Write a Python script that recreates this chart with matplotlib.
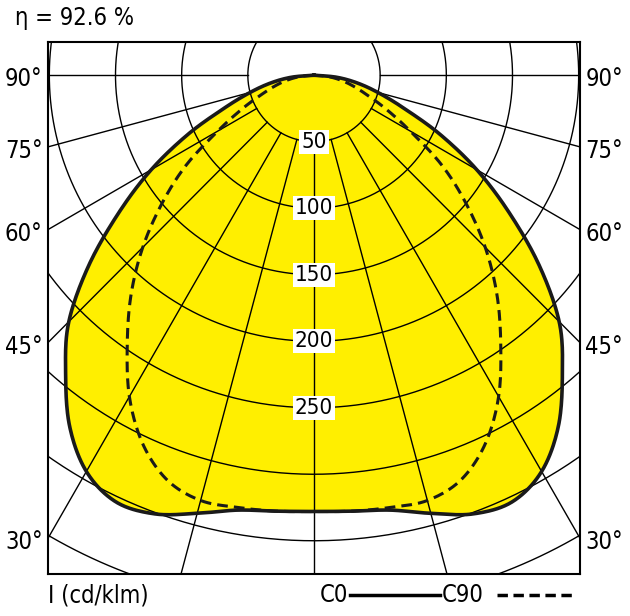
import numpy as np
import matplotlib
matplotlib.use("Agg")
import matplotlib.pyplot as plt

plt.rcParams['font.family'] = ['DejaVu Sans']
plt.rcParams['font.stretch'] = 'condensed'

gamma = [0, 5, 10, 15, 20, 25, 30, 35, 40, 45, 50, 55, 60, 65, 70, 75, 80, 85, 90]
c0 = [328, 329, 332, 341, 351, 354, 344, 322, 292, 262, 222, 180, 142, 105, 72, 50, 33, 17, 0]
c90 = [328, 329, 330, 331, 324, 306, 279, 246, 215, 183, 150, 118, 84, 60, 42, 30, 20, 10, 0]
ring_values = [50, 100, 150, 200, 250, 300, 350, 400, 450]
ring_labels = ["50", "100", "150", "200", "250"]
angle_labels = [90, 75, 60, 45, 30]
efficiency = "η = 92.6 %"

fig = plt.figure(figsize=(6.3, 6.16), dpi=100)
ax = fig.add_axes([48/630, (616-574)/616, 532/630, 532/616])
ax.set_xlim(-201, 201)
ax.set_ylim(-375, 25)
ax.set_xticks([]); ax.set_yticks([])
for s in ax.spines.values():
    s.set_linewidth(1.5)

def xy(g, r):
    g = np.radians(np.asarray(g, float))
    r = np.asarray(r, float)
    return r*np.sin(g), -r*np.cos(g)

def catmull(px, py, n=20):
    px = np.concatenate([[px[0]], px, [px[-1]]])
    py = np.concatenate([[py[0]], py, [py[-1]]])
    ox, oy = [], []
    for i in range(1, len(px)-2):
        for t in np.linspace(0, 1, n, endpoint=False):
            t2, t3 = t*t, t*t*t
            for P, O in ((px, ox), (py, oy)):
                p0, p1, p2, p3 = P[i-1], P[i], P[i+1], P[i+2]
                O.append(0.5*((2*p1) + (-p0+p2)*t + (2*p0-5*p1+4*p2-p3)*t2 + (-p0+3*p1-3*p2+p3)*t3))
    ox.append(px[-2]); oy.append(py[-2])
    return np.array(ox), np.array(oy)

def full(vals):
    g = np.array(gamma, float)
    gg = np.concatenate([-g[::-1], g[1:]])
    rr = np.concatenate([np.array(vals, float)[::-1], np.array(vals, float)[1:]])
    px, py = xy(gg, rr)
    return catmull(px, py)

x0, y0 = full(c0)
ax.fill(x0, y0, color='#ffef00', zorder=1, lw=0)

t = np.linspace(-np.pi, np.pi, 720)
for r in ring_values:
    ax.plot(r*np.sin(t), -r*np.cos(t), color='black', lw=1.0, zorder=2)
for a in range(-90, 91, 15):
    xa, ya = xy([a, a], [50, 800])
    ax.plot(xa, ya, color='black', lw=1.0, zorder=2)

ax.plot(x0, y0, color='#1a1a1a', lw=2.6, zorder=3)
x9, y9 = full(c90)
ax.plot(x9, y9, color='#1a1a1a', lw=2.2, ls=(0, (3.5, 2)), zorder=3)

for i, lab in enumerate(ring_labels):
    r = ring_values[i]
    ax.text(0, -r, lab, ha='center', va='center', fontsize=16, zorder=4,
            bbox=dict(facecolor='white', edgecolor='none', pad=1.5))

for a in angle_labels:
    g = np.radians(a)
    yy = -201/np.tan(g) if a != 90 else 0
    for xx, ha in [(-205, 'right'), (205, 'left')]:
        ax.text(xx, yy - 3, f"{a}°", ha=ha, va='center', fontsize=17, clip_on=False)

fig.text(15/630, 1-18/616, efficiency, ha='left', va='center', fontsize=17)
fig.text(48/630, 1-595/616, "I (cd/klm)", ha='left', va='center', fontsize=17)
fig.text(320/630, 1-595/616, "C0", ha='left', va='center', fontsize=17)
fig.add_artist(plt.Line2D([350/630, 440/630], [1-595/616]*2, color='black', lw=2.5))
fig.text(442/630, 1-595/616, "C90", ha='left', va='center', fontsize=17)
fig.add_artist(plt.Line2D([497/630, 575/630], [1-595/616]*2, color='black', lw=2.5, ls=(0, (3, 1.6))))

fig.savefig("out.png", dpi=100)
